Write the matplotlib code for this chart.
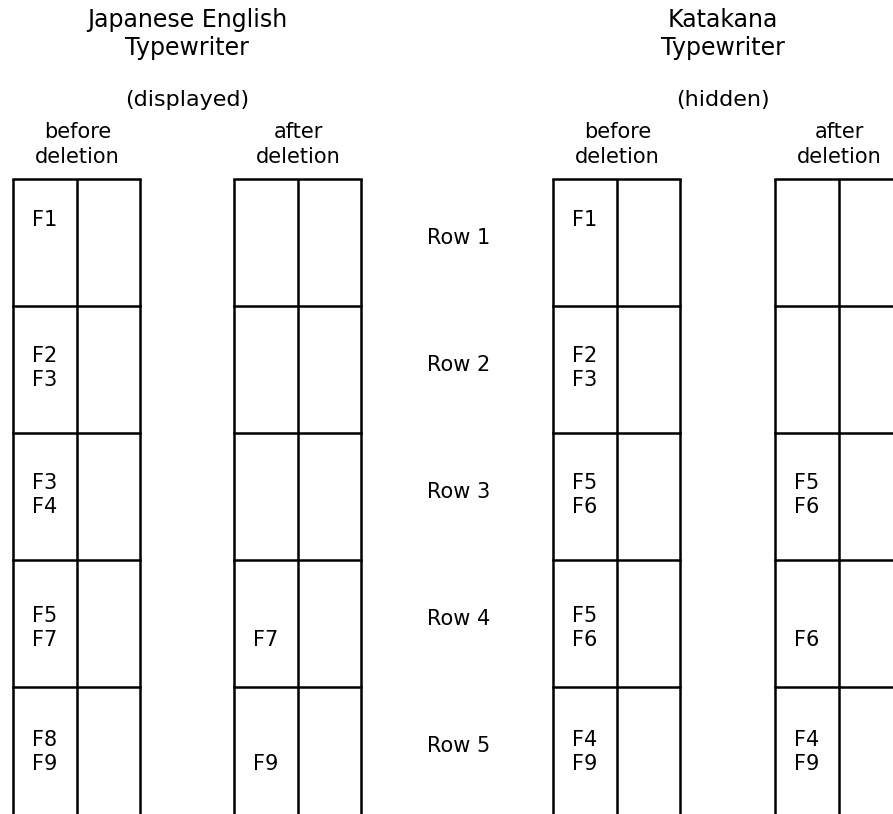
import matplotlib.pyplot as plt

plt.rcParams['font.family'] = ['DejaVu Sans']

# row labels and cell contents (one list per column, one string per row)
rows = ['Row 1', 'Row 2', 'Row 3', 'Row 4', 'Row 5']
jp_before = ['F1', 'F2\nF3', 'F3\nF4', 'F5\nF7', 'F8\nF9']
jp_after = ['', '', '', '\nF7', '\nF9']
kata_before = ['F1', 'F2\nF3', 'F5\nF6', 'F5\nF6', 'F4\nF9']
kata_after = ['', '', 'F5\nF6', '\nF6', 'F4\nF9']

groups = ['Japanese English\nTypewriter', 'Katakana\nTypewriter']
modes = ['(displayed)', '(hidden)']
col_heads = ['before\ndeletion', 'after\ndeletion']

W, H = 893, 814
fig = plt.figure(figsize=(W / 100, H / 100), dpi=100)
ax = fig.add_axes([0, 0, 1, 1])
ax.set_xlim(0, W)
ax.set_ylim(H, 0)
ax.axis('off')

top = 179
row_h = 127
cell_w = 63.5
fs = 15
lw = 1.8
line_gap = 24
text_off = [41, 50, 50, 56, 53]   # first text line below each row's top edge


def stacked(x, y, txt, gap, size=fs, **kw):
    # put each line separately so the spacing follows the original
    for i, line in enumerate(txt.split('\n')):
        if line:
            ax.text(x, y + i * gap, line, fontsize=size, va='center', **kw)


columns = [(13, jp_before), (234, jp_after), (553, kata_before), (775, kata_after)]
for x0, cells in columns:
    # outer verticals and middle divider, open at the bottom
    for k in range(3):
        ax.plot([x0 + k * cell_w] * 2, [top, H + 5], color='black', lw=lw,
                solid_capstyle='butt')
    for r in range(len(rows)):
        y = top + r * row_h
        ax.plot([x0, x0 + 2 * cell_w], [y, y], color='black', lw=lw)
        stacked(x0 + 19, y + text_off[r], cells[r], line_gap, ha='left')

for r, lab in enumerate(rows):
    ax.text(427, top + r * row_h + 59, lab, fontsize=fs, ha='left', va='center')

# headers
for gx, g, m in zip([187, 723], groups, modes):
    stacked(gx, 20, g, 28, size=17, ha='center')
    ax.text(gx, 100, m, fontsize=16, ha='center', va='center')
for i, (x0, _) in enumerate(columns):
    stacked(x0 + cell_w + 1, 132, col_heads[i % 2], 25, ha='center')

fig.savefig('out.png', dpi=100)
